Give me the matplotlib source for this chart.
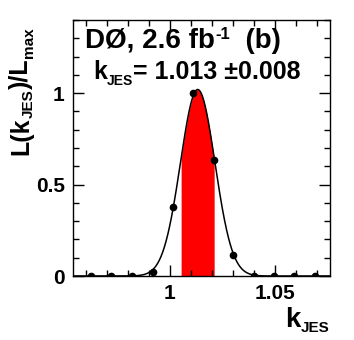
import numpy as np
import matplotlib
matplotlib.use("Agg")
import matplotlib.pyplot as plt
from matplotlib.ticker import MultipleLocator
from matplotlib.transforms import IdentityTransform

plt.rcParams['font.family'] = ['Liberation Sans', 'DejaVu Sans']
plt.rcParams['font.weight'] = 'bold'

# scan points (k_JES, L/Lmax)
k_jes = [0.9625, 0.972, 0.982, 0.992, 1.0013, 1.011, 1.021, 1.030,
         1.040, 1.0495, 1.059, 1.069]
likelihood = [0.0, 0.0, 0.0, 0.02, 0.38, 1.0, 0.634, 0.113,
              0.0, 0.0, 0.0, 0.0]

# gaussian fit of the scan
fit_mean = 1.0132
fit_sigma = 0.0082
fit_amp = 1.02
fit_err = 0.008

W, H = 354, 340
fig = plt.figure(figsize=(W / 100, H / 100), dpi=100)
renderer = fig.canvas.get_renderer()


def rich_text(x, y, parts, vertical=False):
    # parts: (text, size, shift) placed one after another, coords in px from top-left
    # vertical text starts at (x, y) and runs upwards, baseline on the right
    off = 0
    for s, size, shift in parts:
        if vertical:
            t = fig.text(x - shift, H - y + off, s, fontsize=size, rotation=90,
                         ha='left', va='baseline', rotation_mode='anchor',
                         transform=IdentityTransform())
            off += t.get_window_extent(renderer).height
        else:
            t = fig.text(x + off, H - y + shift, s, fontsize=size,
                         ha='left', va='baseline', transform=IdentityTransform())
            off += t.get_window_extent(renderer).width


ax = fig.add_axes([73 / W, 1 - 276 / H, 257 / W, 256 / H])

xs = np.linspace(0.954, 1.076, 600)
ys = fit_amp * np.exp(-0.5 * ((xs - fit_mean) / fit_sigma) ** 2)

band = (xs >= fit_mean - fit_err) & (xs <= fit_mean + fit_err)
ax.fill_between(xs[band], 0, ys[band], color='#ff0000', lw=0)
ax.plot(xs, ys, color='black', lw=1.1)
ax.plot(k_jes, likelihood, 'o', color='black', ms=4.5)

ax.set_xlim(0.954, 1.076)
ax.set_ylim(0, 1.4)
ax.xaxis.set_minor_locator(MultipleLocator(0.01))
ax.yaxis.set_minor_locator(MultipleLocator(0.1))
ax.set_xticks([1.0, 1.05])
ax.set_xticklabels(['1', '1.05'])
ax.set_yticks([0, 0.5, 1])
ax.set_yticklabels(['0', '0.5', '1'])
ax.tick_params(which='both', direction='in', top=True, right=True, width=1)
ax.tick_params(which='major', length=8, labelsize=15, pad=6)
ax.tick_params(which='minor', length=4)
for s in ax.spines.values():
    s.set_linewidth(1)

# axis titles
rich_text(285, 327, [('k', 20, 0), ('JES', 11, -5)])
rich_text(28, 155, [('L(k', 18, 0), ('JES', 11, -5), (')/L', 18, 0),
                    ('max', 11, -5)], vertical=True)

# labels inside the frame
rich_text(85, 48, [('DØ, 2.6 fb', 20, 0), ('-1', 12, 9), ('  (b)', 20, 0)])
rich_text(93, 79, [('k', 18, 0), ('JES', 10, -6),
                   ('= 1.013 \u00b10.008', 18, 0)])

fig.savefig('out.png', dpi=100)
